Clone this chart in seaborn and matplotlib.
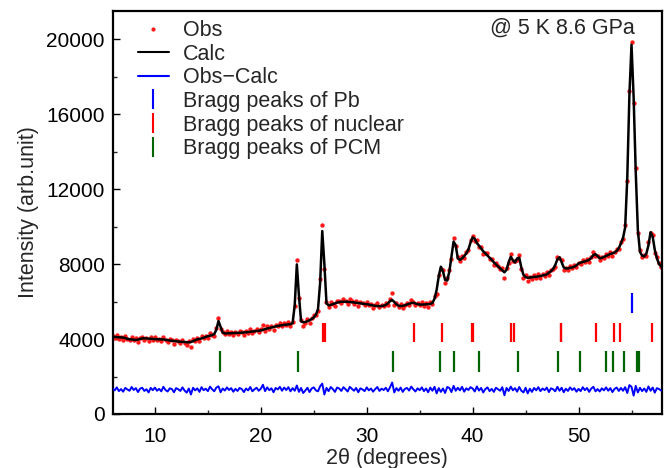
import numpy as np
import pandas as pd
import matplotlib
matplotlib.use("Agg")
import matplotlib.pyplot as plt
from matplotlib.lines import Line2D
import seaborn as sns

# 2theta grid (degrees), 0.2 step
two_theta = np.round(np.arange(6.0, 57.81, 0.2), 1)

# calculated profile
calc = [
    4120, 4110, 4100, 4090, 4085, 4080, 4050, 4010, 3990, 3980,
    3960, 3950, 3970, 4000, 4030, 4040, 4030, 4020, 4010, 4000,
    3995, 3990, 3985, 3980, 3975, 3960, 3940, 3920, 3910, 3895,
    3880, 3865, 3855, 3850, 3840, 3830, 3822, 3840, 3880, 3940,
    3980, 4000, 4030, 4070, 4110, 4150, 4180, 4210, 4260, 4500,
    4960, 4650, 4340, 4300, 4300, 4310, 4310, 4320, 4320, 4330,
    4330, 4340, 4350, 4355, 4370, 4390, 4400, 4410, 4430, 4440,
    4460, 4490, 4530, 4560, 4590, 4615, 4640, 4670, 4700, 4720,
    4740, 4755, 4765, 4775, 4790, 4850, 5800, 7980, 6300, 4950,
    4890, 4910, 4950, 5000, 5070, 5150, 5300, 5600, 7000, 9760,
    8000, 5900, 5800, 5820, 5860, 5900, 5940, 5970, 5985, 5990,
    5990, 5985, 5975, 5965, 5950, 5935, 5920, 5905, 5895, 5880,
    5860, 5840, 5810, 5790, 5770, 5760, 5755, 5760, 5780, 5820,
    5900, 6020, 6080, 5980, 5850, 5780, 5760, 5770, 5800, 5840,
    5880, 5920, 5935, 5900, 5860, 5840, 5835, 5840, 5850, 5860,
    5870, 5920, 6150, 6620, 7350, 7860, 7600, 7150, 7120, 7600,
    8400, 9200, 9000, 8300, 8220, 8300, 8420, 8570, 8780, 9150,
    9420, 9350, 9120, 8980, 8830, 8680, 8570, 8450, 8340, 8220,
    8090, 7980, 7870, 7770, 7660, 7560, 7700, 8100, 8390, 8200,
    8080, 8300, 8340, 7800, 7420, 7300, 7270, 7280, 7300, 7310,
    7320, 7340, 7360, 7390, 7410, 7450, 7530, 7620, 7740, 7950,
    8250, 8360, 8100, 7820, 7760, 7770, 7800, 7820, 7860, 7930,
    8030, 8080, 8110, 8140, 8180, 8220, 8330, 8480, 8530, 8420,
    8310, 8330, 8380, 8430, 8490, 8540, 8570, 8620, 8700, 8850,
    9100, 9400, 9950, 12600, 17000, 19700, 16900, 12900, 9800, 8650,
    8450, 8400, 8550, 9000, 9700, 9450, 8750, 8300, 8000, 7870,
]

# obs - calc
resid = [
    60, -40, 120, -80, 30, -110, 90, 10, -60, 140,
    -20, 80, -130, 50, 100, -70, 20, -150, 90, -30,
    110, -60, 40, -90, 150, -20, -100, 70, 30, -140,
    80, 20, -70, 120, -50, -160, 60, -260, 100, -40,
    70, -120, 130, -30, 50, -80, 160, 20, -90, 110,
    180, -140, 60, -50, 120, -20, 80, -110, 40, -70,
    90, 30, -130, 60, -40, 140, -90, 20, 100, -60,
    50, 260, -80, 120, -30, 70, -140, 90, 10, 150,
    -60, 110, -20, 130, -90, 80, -60, 220, -120, 90,
    -180, -50, 100, -130, 60, 120, -40, -90, 180, 320,
    -260, 90, -80, 140, 30, -120, 110, 60, -70, 130,
    20, -100, 150, 40, -60, 90, -140, 70, 10, -80,
    120, -40, 60, -110, 30, 140, -70, 50, -20, 100,
    -90, 130, 380, -150, 80, -60, 110, -120, 40, 90,
    -50, 160, 20, -100, 70, -30, 120, -80, 60, -140,
    110, -60, 150, -200, 80, -120, 60, -180, 140, 90,
    -130, 200, -60, 100, -40, 150, -110, 70, -20, 130,
    60, -100, 170, -50, 90, -150, 30, 120, -80, 40,
    -120, 100, 20, -60, 130, -300, 90, -70, 160, -40,
    80, -110, 140, -60, -150, 100, -200, 50, -120, 90,
    -40, 130, -80, 60, -30, 110, -130, 70, 20, -90,
    150, -60, 100, -140, 50, -70, 120, -20, 80, -110,
    40, -80, 130, -30, 90, -120, 60, 150, -90, 30,
    -100, 70, -40, 120, -60, 80, -130, 40, 110, -70,
    90, -60, 130, -180, 240, 150, -320, 200, -150, 100,
    -80, 60, -120, 170, -60, 110, -160, 80, 30, -50,
]
diff_offset = 1300

# Bragg reflection positions (2theta)
pb_peaks = [55.0]
nuclear_peaks = [25.85, 26.1, 34.45, 37.1, 39.98, 40.06, 43.6, 43.87,
                 48.3, 48.36, 51.65, 53.3, 53.9, 56.9]
pcm_peaks = [16.1, 23.5, 32.5, 36.95, 38.25, 40.6, 44.3, 48.1, 50.1,
             52.55, 53.28, 54.3, 55.55, 55.7]

df = pd.DataFrame({"two_theta": two_theta, "calc": calc, "resid": resid})
df["obs"] = df["calc"] + df["resid"]
df["diff"] = df["resid"] + diff_offset

sns.set_theme(style="ticks")
plt.rcParams["font.family"] = ["Liberation Sans", "DejaVu Sans"]

fig = plt.figure(figsize=(6.7, 4.68), dpi=100)
ax = fig.add_axes([0.168, 0.1154, 0.8196, 0.8611])

sns.scatterplot(data=df, x="two_theta", y="obs", ax=ax, color="#ff1a1a",
                s=10, linewidth=0, zorder=2, legend=False)
sns.lineplot(data=df, x="two_theta", y="calc", ax=ax, color="black",
             lw=1.8, zorder=3, sort=False, estimator=None)
sns.lineplot(data=df, x="two_theta", y="diff", ax=ax, color="#0000ff",
             lw=1.4, zorder=3, sort=False, estimator=None)

ax.vlines(pb_peaks, 5400, 6450, color="#0000ff", lw=1.6)
ax.vlines(nuclear_peaks, 3830, 4880, color="#ff0000", lw=1.6)
ax.vlines(pcm_peaks, 2260, 3360, color="#006400", lw=1.6)

ax.set_xlim(6, 57.85)
ax.set_ylim(0, 21500)
ax.set_xticks([10, 20, 30, 40, 50])
ax.set_xticks([15, 25, 35, 45, 55], minor=True)
ax.set_yticks([0, 4000, 8000, 12000, 16000, 20000])
ax.set_yticks([2000, 6000, 10000, 14000, 18000], minor=True)
ax.tick_params(axis="both", which="major", direction="in", length=5,
               width=1, labelsize=15, colors="black")
ax.tick_params(axis="both", which="minor", direction="in", length=3, width=1)
ax.tick_params(axis="x", which="major", pad=9.5)
ax.tick_params(axis="y", which="major", pad=5.5)
for sp in ax.spines.values():
    sp.set_visible(True)
    sp.set_linewidth(1.6)
    sp.set_color("black")

ax.set_xlabel("2\u03b8 (degrees)", fontsize=15.5, labelpad=1)
ax.set_ylabel("Intensity (arb.unit)", fontsize=15.5, labelpad=5)

ax.text(0.951, 0.958, "@ 5 K 8.6 GPa", transform=ax.transAxes,
        ha="right", va="center", fontsize=15.5)

handles = [
    Line2D([], [], ls="none", marker="o", color="#ff1a1a", ms=2),
    Line2D([], [], color="black", lw=1.5),
    Line2D([], [], color="#0000ff", lw=1.5),
    Line2D([], [], ls="none", marker="|", color="#0000ff", ms=14.5, mew=1.5),
    Line2D([], [], ls="none", marker="|", color="#ff0000", ms=14.5, mew=1.5),
    Line2D([], [], ls="none", marker="|", color="#006400", ms=14.5, mew=1.5),
]
labels = ["Obs", "Calc", "Obs\u2212Calc", "Bragg peaks of Pb",
          "Bragg peaks of nuclear", "Bragg peaks of PCM"]
ax.legend(handles, labels, loc="upper left", bbox_to_anchor=(0.046, 0.977),
          frameon=False, fontsize=15.5, handlelength=1.44,
          handletextpad=0.64, labelspacing=0.12, borderpad=0,
          borderaxespad=0)

fig.savefig("out.png", dpi=100)
